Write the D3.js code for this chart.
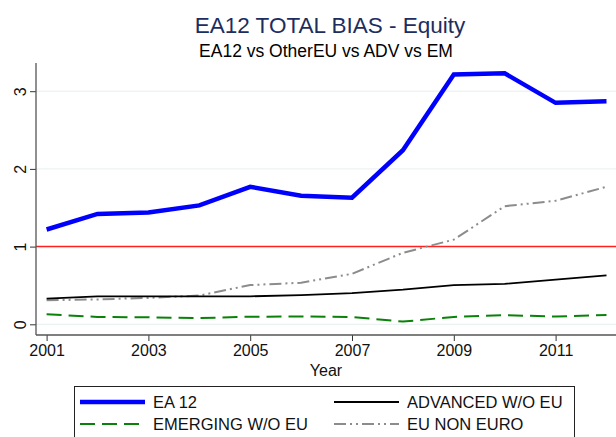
<!DOCTYPE html>
<html><head><meta charset="utf-8">
<script src="https://cdn.jsdelivr.net/npm/d3@7"></script>
<style>body{margin:0;background:#fff}svg{display:block;font-family:"Liberation Sans",Arial,sans-serif}</style>
</head><body><svg id="c" width="616" height="437"></svg>
<script>
const years = [2001,2002,2003,2004,2005,2006,2007,2008,2009,2010,2011,2012];
const ea12 = [1.22,1.42,1.44,1.53,1.77,1.655,1.63,2.24,3.215,3.23,2.85,2.87];
const advanced = [0.33,0.36,0.36,0.36,0.36,0.375,0.40,0.445,0.505,0.52,0.575,0.63];
const emerging = [0.13,0.094,0.09,0.08,0.098,0.10,0.095,0.035,0.095,0.117,0.10,0.12];
const euNonEuro = [0.31,0.32,0.34,0.37,0.505,0.535,0.65,0.92,1.09,1.52,1.59,1.77];
const xTicks = [2001,2003,2005,2007,2009,2011];
const yTicks = [0,1,2,3];
const seriesNames = ["EA 12","ADVANCED W/O EU","EMERGING W/O EU","EU NON EURO"];

const svg = d3.select("#c");
const x = d3.scaleLinear().domain([2001,2012]).range([46.6,606.5]);
const y = d3.scaleLinear().domain([0,3]).range([324.3,91.2]);
const pL = 36, pR = 616, pT = 63, pB = 335;

// gridlines
svg.append("g").selectAll("line").data(yTicks).join("line")
  .attr("x1",pL).attr("x2",pR).attr("y1",d=>y(d)).attr("y2",d=>y(d))
  .attr("stroke","#e6eff0").attr("stroke-width",1);

// reference line at 1
svg.append("line").attr("x1",pL).attr("x2",pR).attr("y1",y(1)).attr("y2",y(1))
  .attr("stroke","#ff2020").attr("stroke-width",1.5);

// axes
const yAxis = d3.axisLeft(y).tickValues(yTicks).tickSize(6).tickFormat(d3.format("d"));
const gy = svg.append("g").attr("transform",`translate(${pL},0)`).call(yAxis);
gy.select(".domain").remove();
gy.selectAll(".tick line").attr("stroke","#333");
gy.selectAll(".tick text").attr("font-size",16).attr("fill","#111")
  .attr("transform","translate(-10.5,0) rotate(-90)")
  .attr("text-anchor","middle").attr("dy","0").attr("x",0).attr("y",0);
svg.append("line").attr("x1",pL).attr("x2",pL).attr("y1",pT).attr("y2",pB).attr("stroke","#555").attr("stroke-width",1.3);

const xAxis = d3.axisBottom(x).tickValues(xTicks).tickSize(6).tickFormat(d3.format("d"));
const gx = svg.append("g").attr("transform",`translate(0,${pB})`).call(xAxis);
gx.select(".domain").remove();
gx.selectAll(".tick line").attr("stroke","#333");
gx.selectAll(".tick text").attr("font-size",16).attr("fill","#111").attr("y",10).attr("dy","0.71em");
svg.append("line").attr("x1",pL).attr("x2",pR).attr("y1",pB).attr("y2",pB).attr("stroke","#555").attr("stroke-width",1.3);

svg.append("text").attr("x",326).attr("y",376).attr("text-anchor","middle").attr("font-size",16).attr("fill","#111").text("Year");

// lines
const line = d3.line().x((d,i)=>x(years[i])).y(d=>y(d));
const styles = [
  {data:ea12, color:"#0000ff", w:4.5, dash:null},
  {data:advanced, color:"#000", w:1.8, dash:null},
  {data:emerging, color:"#0a820a", w:2, dash:"15,7"},
  {data:euNonEuro, color:"#8c8c8c", w:2, dash:"12,4,2,4,2,4"}
];
[styles[3],styles[1],styles[2],styles[0]].forEach(s=>{
  svg.append("path").attr("d",line(s.data)).attr("fill","none").attr("stroke",s.color)
    .attr("stroke-width",s.w).attr("stroke-dasharray",s.dash).attr("stroke-linejoin","miter");
});

// titles
svg.append("text").attr("x",330).attr("y",33).attr("text-anchor","middle").attr("font-size",22.5).attr("fill","#1c2d5e").text("EA12 TOTAL BIAS - Equity");
svg.append("text").attr("x",326).attr("y",57).attr("text-anchor","middle").attr("font-size",17.5).attr("fill","#000").text("EA12 vs OtherEU vs ADV vs EM");

// legend
svg.append("rect").attr("x",74.5).attr("y",386.5).attr("width",500).attr("height",60).attr("fill","#fff").attr("stroke","#222").attr("stroke-width",1);
const legPos = [[80,402],[334,402],[80,424],[334,424]];
styles.forEach((s,i)=>{
  const [lx,ly]=legPos[i];
  svg.append("line").attr("x1",lx).attr("x2",lx+65).attr("y1",ly).attr("y2",ly)
    .attr("stroke",s.color).attr("stroke-width",s.w).attr("stroke-dasharray",s.dash);
  svg.append("text").attr("x",lx+73).attr("y",ly+6).attr("font-size",16.5).attr("fill","#111").text(seriesNames[i]);
});
</script></body></html>
